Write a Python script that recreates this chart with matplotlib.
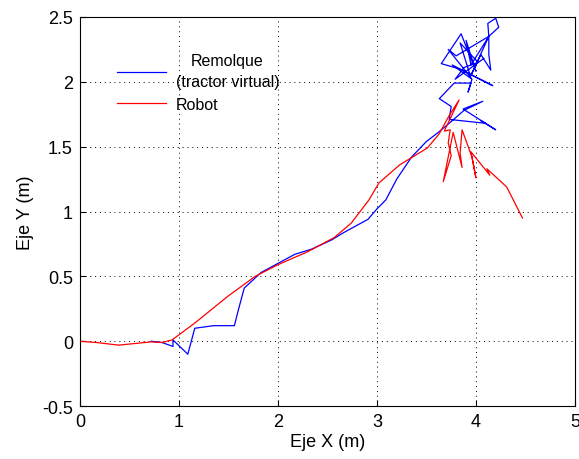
import matplotlib
matplotlib.use("Agg")
import matplotlib.pyplot as plt

plt.rcParams.update({"font.family": ["Liberation Sans", "DejaVu Sans"], "font.size": 13})

# trailer (virtual tractor) trajectory
rem_x = [0.72, 0.83, 0.94, 0.94, 1.09, 1.16, 1.35, 1.56, 1.60, 1.66, 1.83, 2.00, 2.17,
         2.34, 2.54, 2.67, 2.91, 3.00, 3.09, 3.20, 3.35, 3.50, 3.62, 3.73, 3.88, 4.07,
         3.87, 4.20, 4.05, 4.10, 3.73, 3.75, 3.63, 3.78, 3.95, 3.92, 3.96, 3.76, 4.17,
         3.83, 3.65, 3.85, 4.00, 3.90, 3.95, 4.13, 4.13, 4.15, 4.05, 3.95, 4.13, 4.12,
         4.20, 4.23, 4.13, 3.80, 3.72, 3.95, 3.84, 4.02, 3.88, 3.79, 4.08]
rem_y = [0.00, -0.01, -0.04, 0.01, -0.10, 0.10, 0.12, 0.12, 0.24, 0.41, 0.53, 0.60, 0.67,
         0.71, 0.78, 0.84, 0.94, 1.02, 1.09, 1.25, 1.42, 1.54, 1.61, 1.68, 1.78, 1.85,
         1.79, 1.63, 1.70, 1.68, 1.71, 1.81, 1.87, 1.99, 1.99, 1.92, 2.02, 2.13, 1.97,
         2.10, 2.14, 2.37, 2.08, 2.32, 2.13, 2.35, 2.21, 2.09, 2.21, 2.05, 2.35, 2.45,
         2.49, 2.42, 2.35, 2.20, 2.25, 2.03, 2.30, 2.15, 2.11, 2.02, 2.18]

# robot trajectory
rob_x = [0.00, 0.17, 0.39, 0.72, 0.83, 0.93, 1.16, 1.50, 1.77, 2.00, 2.30, 2.57, 2.74,
         2.92, 3.02, 3.23, 3.51, 3.63, 3.73, 3.83, 3.68, 3.74, 3.72, 3.75, 3.67, 3.77,
         3.86, 3.84, 3.86, 3.96, 4.00, 3.95, 4.14, 4.11, 4.31, 4.47]
rob_y = [0.00, -0.01, -0.03, -0.005, -0.01, 0.01, 0.14, 0.35, 0.50, 0.59, 0.69, 0.80, 0.91,
         1.09, 1.22, 1.36, 1.49, 1.60, 1.74, 1.86, 1.62, 1.63, 1.53, 1.43, 1.23, 1.61,
         1.34, 1.45, 1.63, 1.42, 1.26, 1.46, 1.28, 1.33, 1.19, 0.95]

fig = plt.figure(figsize=(5.79, 4.60), dpi=100)
ax = fig.add_axes([0.138, 0.115, 0.855, 0.846])
ax.plot(rem_x, rem_y, color="#0000ff", lw=0.9, label="Remolque\n(tractor virtual)")
ax.plot(rob_x, rob_y, color="#ff0000", lw=0.9, label="Robot")
ax.set_xlim(0, 5); ax.set_ylim(-0.5, 2.5)
ax.set_xticks([0, 1, 2, 3, 4, 5])
ax.set_yticks([-0.5, 0, 0.5, 1, 1.5, 2, 2.5])
ax.set_yticklabels(["-0.5", "0", "0.5", "1", "1.5", "2", "2.5"])
ax.grid(True, color="black", linestyle=(0, (1, 4)), linewidth=0.7)
ax.tick_params(direction="in", length=4, labelsize=13, pad=5)
for s in ax.spines.values():
    s.set_linewidth(0.8)
ax.set_xlabel("Eje X (m)", fontsize=13, labelpad=2)
ax.set_ylabel("Eje Y (m)", fontsize=13, labelpad=6)
leg = ax.legend(loc="upper left", bbox_to_anchor=(0.045, 0.943), frameon=False,
                fontsize=11.5, handlelength=3.1, handletextpad=0.6, labelspacing=0.45)
for t in leg.get_texts():
    t.set_multialignment("center")
    t.set_linespacing(1.5)
fig.savefig("out.png", dpi=100)
